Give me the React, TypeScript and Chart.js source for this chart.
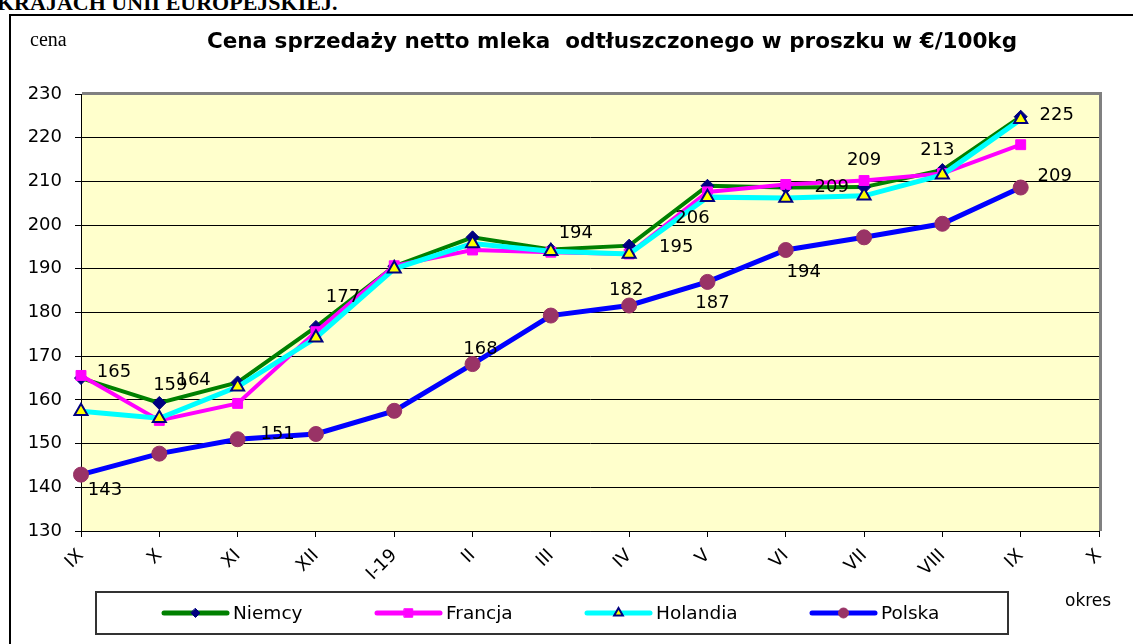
import React, { useEffect, useRef } from 'react';
import { Chart, registerables } from 'chart.js';

Chart.register(...registerables);

// ---------- data ----------
const periods = ['IX', 'X', 'XI', 'XII', 'I-19', 'II', 'III', 'IV', 'V', 'VI', 'VII', 'VIII', 'IX', 'X'];
const niemcy = [165, 159.3, 164, 176.7, 190.6, 197.2, 194.4, 195.3, 209, 208.6, 208.7, 212.6, 224.8, null];
const francja = [165.6, 155.3, 159.2, 175.6, 190.7, 194.3, 193.8, 193.4, 207.6, 209.3, 210.2, 211.8, 218.4, null];
const holandia = [157.4, 155.8, 163, 174.2, 190, 195.8, 194, 193.4, 206.4, 206.2, 206.7, 211.5, 224.2, null];
const polska = [142.9, 147.7, 151, 152.2, 157.5, 168.2, 179.3, 181.6, 187, 194.3, 197.2, 200.3, 208.6, null];
const seriesNames = ['Niemcy', 'Francja', 'Holandia', 'Polska'];
const yMin = 130;
const yMax = 230;
const yStep = 10;
const titleText = 'Cena sprzedaży netto mleka  odtłuszczonego w proszku w €/100kg';
const yAxisText = 'cena';
const xAxisText = 'okres';
const headerText = 'KRAJACH UNII EUROPEJSKIEJ.';

// which points carry a value label: [series, point]
const labelledPoints: [number, number][] = [
  [0, 0], [0, 1], [0, 2], [0, 3], [0, 6], [0, 7], [0, 9], [0, 10], [0, 11], [0, 12],
  [2, 8],
  [3, 0], [3, 2], [3, 5], [3, 7], [3, 8], [3, 9], [3, 12],
];

// ---------- styling ----------
const FONT = '"DejaVu Sans", Verdana, sans-serif';
const labelOffsets: [number, number][] = [
  [33, -6], [11, -18], [-44, -2], [27, -30], [25, -16], [47, 2], [46, 0], [0, -27], [-5, -20], [36, -1],
  [-15, 21],
  [24, 16], [40, -5], [8, -15], [-3, -15], [5, 21], [18, 22], [34, -11],
];
const seriesStyles = [
  { line: '#008000', width: 4, marker: 'rectRot', radius: 6.5, fill: '#000080', stroke: '#000080', bw: 1, lr: 4.5 },
  { line: '#FF00FF', width: 4, marker: 'rect', radius: 7, fill: '#FF00FF', stroke: '#FF00FF', bw: 1, lr: 6 },
  { line: '#00FFFF', width: 5, marker: 'triangle', radius: 7.5, fill: '#FFFF00', stroke: '#000080', bw: 2, lr: 5 },
  { line: '#0000FF', width: 5, marker: 'circle', radius: 7.5, fill: '#993366', stroke: '#993366', bw: 1, lr: 5 },
];
const legendBox = { left: 96, top: 592, right: 1008, bottom: 634 };
const legendSampleX = [162, 375, 585, 810];
const legendSampleW = 67;

function drawMarker(ctx: CanvasRenderingContext2D, kind: string, x: number, y: number, r: number, fill: string, stroke: string, bw: number) {
  ctx.save();
  ctx.beginPath();
  if (kind === 'rectRot') {
    ctx.moveTo(x, y - r); ctx.lineTo(x + r, y); ctx.lineTo(x, y + r); ctx.lineTo(x - r, y); ctx.closePath();
  } else if (kind === 'rect') {
    const h = r * Math.SQRT1_2;
    ctx.rect(x - h, y - h, 2 * h, 2 * h);
  } else if (kind === 'triangle') {
    ctx.moveTo(x, y - r);
    ctx.lineTo(x + r * Math.sin(2 * Math.PI / 3), y - r * Math.cos(2 * Math.PI / 3));
    ctx.lineTo(x + r * Math.sin(4 * Math.PI / 3), y - r * Math.cos(4 * Math.PI / 3));
    ctx.closePath();
  } else {
    ctx.arc(x, y, r, 0, Math.PI * 2);
  }
  ctx.fillStyle = fill;
  ctx.fill();
  ctx.lineWidth = bw;
  ctx.strokeStyle = stroke;
  ctx.stroke();
  ctx.restore();
}

const decorPlugin = {
  id: 'decor',
  beforeDraw(chart: any) {
    const { ctx, chartArea: a } = chart;
    ctx.save();
    ctx.fillStyle = '#FFFFCC';
    ctx.fillRect(a.left, a.top, a.right - a.left, a.bottom - a.top);
    ctx.restore();
  },
  beforeDatasetsDraw(chart: any) {
    const { ctx, chartArea: a } = chart;
    ctx.save();
    ctx.strokeStyle = '#808080';
    ctx.lineWidth = 3;
    ctx.beginPath();
    ctx.moveTo(a.left + 1, a.top - 0.5);
    ctx.lineTo(a.right + 1.5, a.top - 0.5);
    ctx.lineTo(a.right + 1.5, a.bottom);
    ctx.stroke();
    ctx.restore();
  },
  afterDatasetsDraw(chart: any) {
    const { ctx } = chart;
    ctx.save();
    ctx.font = `18px ${FONT}`;
    ctx.fillStyle = '#000';
    ctx.textAlign = 'center';
    ctx.textBaseline = 'middle';
    labelledPoints.forEach(([s, i], k) => {
      const el = chart.getDatasetMeta(s).data[i];
      const v = chart.data.datasets[s].data[i];
      if (!el || v == null) return;
      ctx.fillText(String(Math.round(v)), el.x + labelOffsets[k][0], el.y + labelOffsets[k][1]);
    });
    ctx.restore();
  },
  afterDraw(chart: any) {
    // legend
    const { ctx } = chart;
    ctx.save();
    ctx.strokeStyle = '#333';
    ctx.lineWidth = 2;
    ctx.strokeRect(legendBox.left, legendBox.top, legendBox.right - legendBox.left, legendBox.bottom - legendBox.top);
    const cy = (legendBox.top + legendBox.bottom) / 2;
    ctx.font = `18.5px ${FONT}`;
    ctx.fillStyle = '#000';
    ctx.textAlign = 'left';
    ctx.textBaseline = 'middle';
    chart.data.datasets.forEach((d: any, i: number) => {
      const st = seriesStyles[i];
      const x0 = legendSampleX[i];
      ctx.strokeStyle = st.line;
      ctx.lineWidth = 5;
      ctx.lineCap = 'round';
      ctx.beginPath();
      ctx.moveTo(x0 + 2, cy);
      ctx.lineTo(x0 + legendSampleW - 2, cy);
      ctx.stroke();
      drawMarker(ctx, st.marker, x0 + legendSampleW / 2, cy, st.lr, st.fill, st.stroke, st.bw);
      ctx.fillText(d.label, x0 + legendSampleW + 4, cy + 1);
    });
    ctx.restore();
  },
};

export default function App() {
  const ref = useRef<HTMLCanvasElement>(null);

  useEffect(() => {
    const canvas = ref.current;
    if (!canvas) return;
    const values = [niemcy, francja, holandia, polska];
    const chart = new Chart(canvas, {
      type: 'line',
      data: {
        labels: periods,
        datasets: values.map((data, i) => {
          const st = seriesStyles[i];
          return {
            label: seriesNames[i],
            data,
            borderColor: st.line,
            backgroundColor: st.line,
            borderWidth: st.width,
            fill: false,
            tension: 0,
            pointStyle: st.marker as any,
            pointRadius: st.radius,
            pointBackgroundColor: st.fill,
            pointBorderColor: st.stroke,
            pointBorderWidth: st.bw,
            order: 3 - i,
          };
        }),
      },
      plugins: [decorPlugin],
      options: {
        responsive: false,
        animation: false,
        layout: { padding: { left: 0, top: 94, right: 34, bottom: 58 } },
        plugins: {
          legend: { display: false },
          title: { display: false },
          tooltip: { enabled: false },
        },
        scales: {
          x: {
            type: 'category',
            offset: false,
            grid: { display: true, drawOnChartArea: false, drawTicks: true, tickLength: 6, color: '#000' },
            border: { display: true, color: '#000', width: 1 },
            ticks: {
              autoSkip: false,
              minRotation: 45,
              maxRotation: 45,
              padding: 8,
              color: '#000',
              font: { family: FONT, size: 18 },
            },
            afterFit: (scale: any) => { scale.height = 55; },
          },
          y: {
            min: yMin,
            max: yMax,
            grid: { color: '#000', lineWidth: 1, drawTicks: true, tickLength: 6 },
            border: { display: true, color: '#000', width: 1 },
            ticks: {
              stepSize: yStep,
              padding: 13,
              color: '#000',
              font: { family: FONT, size: 18 },
            },
            afterFit: (scale: any) => { scale.width = 81; },
          },
        },
      },
    });
    return () => chart.destroy();
  }, []);

  return (
    <div style={{ position: 'fixed', left: 0, top: 0, width: 1133, height: 644, overflow: 'hidden', background: '#fff' }}>
      <div style={{ position: 'absolute', left: -3, top: -8, font: `bold 22px "Liberation Serif", "Times New Roman", serif`, lineHeight: '22px', whiteSpace: 'nowrap', color: '#000' }}>
        {headerText}
      </div>
      <div style={{ position: 'absolute', left: 9, top: 14, width: 1200, height: 700, borderTop: '2px solid #000', borderLeft: '2px solid #000' }} />
      <canvas ref={ref} width={1133} height={644} style={{ position: 'absolute', left: 0, top: 0, width: 1133, height: 644 }} />
      <div style={{ position: 'absolute', left: 30, top: 29, font: `20px "Liberation Serif", "Times New Roman", serif`, lineHeight: '20px', color: '#000' }}>
        {yAxisText}
      </div>
      <div style={{ position: 'absolute', left: 187, top: 30, width: 850, textAlign: 'center', font: `bold 21.5px ${FONT}`, lineHeight: '21px', whiteSpace: 'pre', color: '#000' }}>
        {titleText}
      </div>
      <div style={{ position: 'absolute', left: 1065, top: 592, font: `17px ${FONT}`, lineHeight: '17px', color: '#000' }}>
        {xAxisText}
      </div>
    </div>
  );
}
